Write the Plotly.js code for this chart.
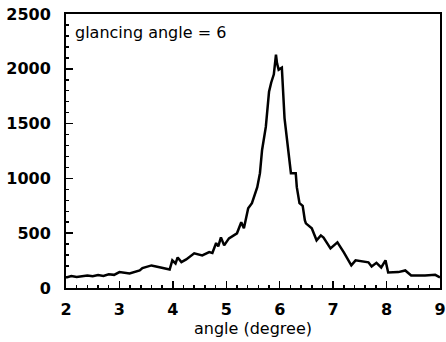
<!DOCTYPE html>
<html><head><meta charset="utf-8">
<script src="https://cdn.plot.ly/plotly-3.0.1.min.js"></script>
<style>html,body{margin:0;padding:0;background:#fff}#c{width:446px;height:342px}</style>
</head><body><div id="c"></div>
<script>
const angle = [2.0,2.1,2.2,2.3,2.4,2.5,2.6,2.7,2.8,2.9,3.0,3.19,3.38,3.43,3.60,3.75,3.94,3.99,4.05,4.09,4.16,4.25,4.40,4.55,4.68,4.74,4.81,4.85,4.90,4.96,5.05,5.20,5.28,5.33,5.41,5.48,5.58,5.63,5.67,5.74,5.80,5.84,5.89,5.93,5.95,5.98,6.04,6.09,6.15,6.18,6.21,6.30,6.32,6.37,6.43,6.47,6.49,6.60,6.69,6.77,6.82,6.95,7.08,7.20,7.34,7.42,7.66,7.72,7.81,7.90,7.98,8.03,8.22,8.35,8.46,8.72,8.91,9.0];
const counts = [95,110,100,105,115,108,118,110,125,120,145,133,160,181,206,190,169,252,224,279,236,261,316,298,328,320,410,380,462,389,453,499,600,545,728,774,920,1048,1259,1470,1790,1873,1950,2129,2050,1992,2010,1550,1287,1168,1048,1048,920,774,750,618,590,545,435,480,460,361,417,325,206,252,234,197,230,188,252,142,145,160,114,115,120,96];
const xTicks = [2,3,4,5,6,7,8,9];
const yTicks = [0,500,1000,1500,2000,2500];
const labelText = "glancing angle = 6";

const fontB = {family:"DejaVu Sans, sans-serif", size:16, color:"#000", weight:700};
const fontN = {family:"DejaVu Sans, sans-serif", size:16, color:"#000"};
Plotly.newPlot("c", [{
  x: angle, y: counts, type:"scatter", mode:"lines",
  line:{color:"#000", width:2.5}, hoverinfo:"skip"
}], {
  width:446, height:342,
  margin:{l:66, r:6, t:14, b:54},
  paper_bgcolor:"#fff", plot_bgcolor:"#fff",
  showlegend:false,
  xaxis:{range:[2,9], tickvals:xTicks, ticks:"inside", ticklen:7, tickwidth:1.5, tickcolor:"#000",
    showline:true, linecolor:"#000", linewidth:2, mirror:true, showgrid:false, zeroline:false,
    tickfont:fontB, ticklabelstandoff:6, ticklabeloverflow:"allow",
    minor:{dtick:0.2, ticks:"inside", ticklen:3, tickcolor:"#000", tickwidth:1.5, showgrid:false},
    title:{text:"angle (degree)", font:fontN, standoff:0}},
  yaxis:{range:[0,2500], tickvals:yTicks, ticks:"inside", ticklen:7, tickwidth:1.5, tickcolor:"#000",
    showline:true, linecolor:"#000", linewidth:2, mirror:true, showgrid:false, zeroline:false,
    tickfont:fontB, ticklabelstandoff:10,
    minor:{dtick:100, ticks:"inside", ticklen:3, tickcolor:"#000", tickwidth:1.5, showgrid:false}},
  annotations:[{text:labelText, xref:"paper", yref:"paper", x:0.02, y:0.975, xanchor:"left", yanchor:"top",
    showarrow:false, font:fontN}]
}, {staticPlot:true, displayModeBar:false});
</script></body></html>
